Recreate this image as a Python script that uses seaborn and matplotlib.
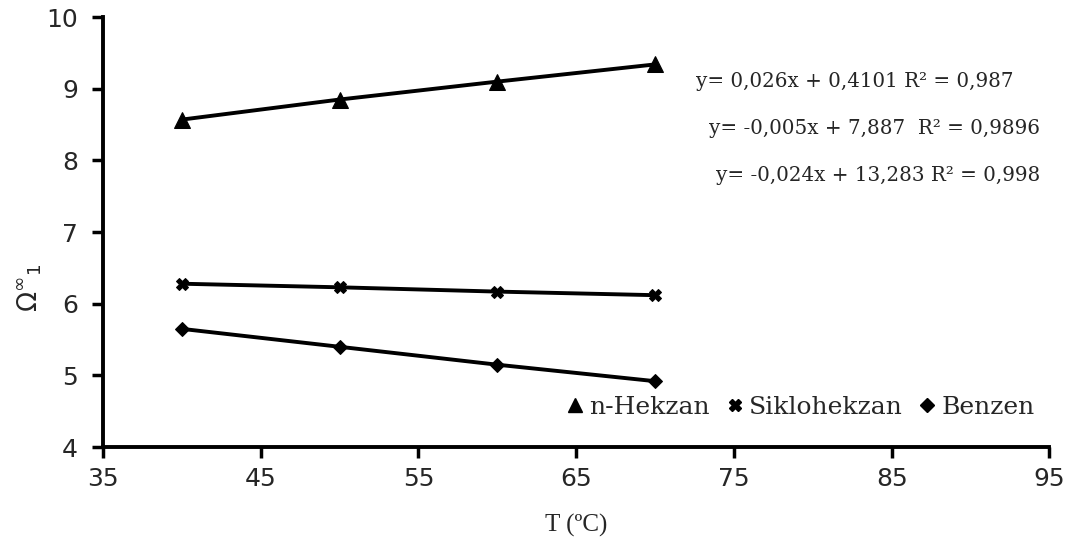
import matplotlib
matplotlib.use("Agg")
import matplotlib.pyplot as plt
from matplotlib.lines import Line2D
import seaborn as sns
import pandas as pd

temps = [40, 50, 60, 70]
hekzan = [8.57, 8.85, 9.10, 9.34]
siklohekzan = [6.28, 6.23, 6.17, 6.12]
benzen = [5.65, 5.40, 5.15, 4.92]
series_names = ["n-Hekzan", "Siklohekzan", "Benzen"]
equations = ["y= 0,026x + 0,4101 R² = 0,987",
             "y= -0,005x + 7,887  R² = 0,9896",
             "y= -0,024x + 13,283 R² = 0,998"]
xticks = [35, 45, 55, 65, 75, 85, 95]
yticks = [4, 5, 6, 7, 8, 9, 10]

sns.set_theme(style="ticks")
plt.rcParams['font.family'] = ['DejaVu Sans']

df = pd.DataFrame({
    "T": temps * 3,
    "val": hekzan + siklohekzan + benzen,
    "series": sum([[n] * 4 for n in series_names], []),
})

fig = plt.figure(figsize=(10.78, 5.52), dpi=100)
ax = fig.add_axes([0.0955, 0.19, 0.878, 0.779])

markers = {"n-Hekzan": "^", "Siklohekzan": "X", "Benzen": "D"}
sizes = {"n-Hekzan": 11, "Siklohekzan": 9, "Benzen": 7}
for name in series_names:
    sub = df[df.series == name]
    sns.lineplot(data=sub, x="T", y="val", ax=ax, color="black", linewidth=2.8,
                 marker=markers[name], markersize=sizes[name], markeredgecolor="black",
                 markerfacecolor="black", legend=False)

ax.set_xlim(35, 95)
ax.set_ylim(4, 10)
ax.set_xticks(xticks)
ax.set_yticks(yticks)
ax.tick_params(axis="both", direction="out", length=8, width=2.5, labelsize=18, color="black")
ax.tick_params(axis="y", pad=10)
ax.tick_params(axis="x", pad=6)
for s in ["top", "right"]:
    ax.spines[s].set_visible(False)
for s in ["left", "bottom"]:
    ax.spines[s].set_linewidth(2.8)
    ax.spines[s].set_color("black")

ax.set_xlabel("T (ºC)", fontsize=18, family="Liberation Serif", labelpad=17)
ax.set_ylabel(r"$\Omega^{\infty}{}_{1}$", fontsize=19)
ax.yaxis.set_label_coords(-0.062, 0.37)

ypos = [0.85, 0.742, 0.632]
xpos = [0.962, 0.99, 0.99]
for eq, yy, xx in zip(equations, ypos, xpos):
    ax.text(xx, yy, eq, transform=ax.transAxes, ha="right", va="center",
            fontsize=14.3, family="DejaVu Serif")

handles = [Line2D([], [], linestyle="none", marker=markers[n], markersize=sizes[n] * 0.95,
                  color="black") for n in series_names]
leg = ax.legend(handles, series_names, loc="lower right", bbox_to_anchor=(1.0, 0.03), ncol=3,
                frameon=False, prop={"family": "DejaVu Serif", "size": 18},
                handletextpad=0.05, columnspacing=0.5, handlelength=1.0, borderaxespad=0.2)

fig.savefig("out.png", dpi=100)
